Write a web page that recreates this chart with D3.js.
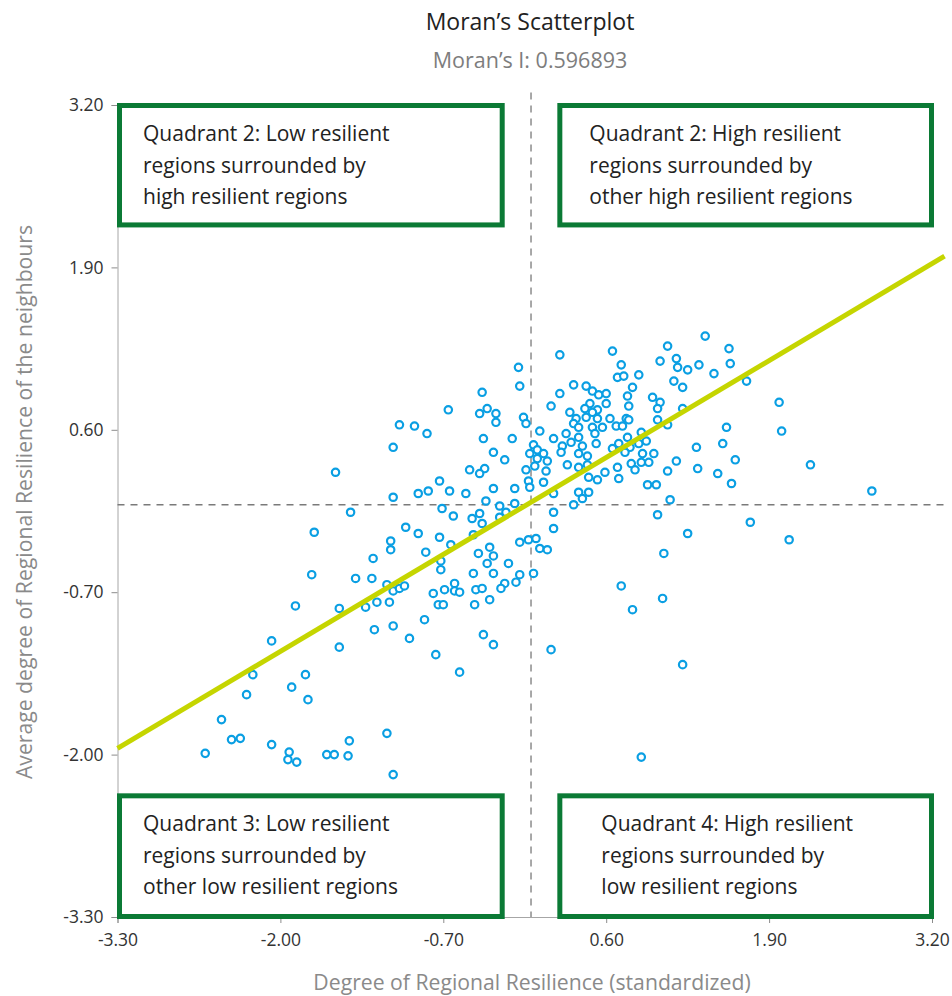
<!DOCTYPE html>
<html>
<head>
<meta charset="utf-8">
<script src="https://cdn.jsdelivr.net/npm/d3@7"></script>
<style>
  html, body { margin: 0; padding: 0; background: #fff; }
  svg { display: block; }
</style>
</head>
<body>
<svg id="chart" width="952" height="996"></svg>
<script>
// ---------------- DATA ----------------
const chartTitle = "Moran\u2019s Scatterplot";
const chartSubtitle = "Moran\u2019s I: 0.596893";
const xAxisTitle = "Degree of Regional Resilience (standardized)";
const yAxisTitle = "Average degree of Regional Resilience of the neighbours";

const xTicks = [-3.3, -2.0, -0.7, 0.6, 1.9, 3.2];
const yTicks = [-3.3, -2.0, -0.7, 0.6, 1.9, 3.2];

const moransI = 0.596893;      // slope of the fitted line
const lineIntercept = 0.02;
const lineExtent = [-3.3, 3.3];

// standardized resilience of each region (x)
const resilience = [
  -1.56,-1.44,-1.73,-1.26,-1.75,-1.40,-1.27,-1.88,-1.53,-1.32,
  -1.23,-1.25,-2.07,-1.53,-2.22,-1.80,-1.91,-2.27,-1.78,-2.47,
  -2.39,-2.32,-2.07,-2.60,-1.93,-1.94,-1.87,-1.63,-1.57,-1.45,
  -1.46,-0.39,-1.00,-0.90,-0.73,-1.12,-0.46,-0.64,-1.12,-0.84,
  -0.33,-0.42,-0.30,-0.09,-0.02,0.04,0.07,-0.72,-0.35,-0.18,
  -0.72,-0.46,-0.30,0.02,-0.09,-0.12,-0.21,-1.15,-0.61,-1.10,
  -1.05,-1.01,-1.13,-0.78,-0.69,-0.61,-0.57,-0.44,-0.39,-0.24,
  -0.33,-0.74,-0.70,-0.45,-0.85,-1.10,-0.97,-0.38,-0.30,-0.76,
  -0.57,-1.15,-1.10,-0.10,-0.09,-0.39,-0.66,-0.35,-0.41,-0.28,
  -0.28,-0.06,-0.04,-1.05,-0.93,-0.83,-1.10,-0.38,-0.15,0.02,
  -0.30,-0.01,0.05,0.05,-0.21,0.03,-0.49,-0.37,-0.41,-0.04,
  -0.73,-0.02,-0.01,-0.30,-0.13,-0.90,-0.82,-0.65,-0.52,-1.10,
  -0.36,-0.13,-0.25,-0.71,-0.20,-0.41,-0.62,-0.25,-0.47,0.07,
  0.23,0.65,1.09,0.72,1.03,1.16,1.17,1.25,0.69,0.74,
  0.86,1.14,1.21,0.34,0.44,0.23,0.49,0.54,0.60,0.81,
  0.77,0.60,0.97,1.03,0.16,0.47,0.78,0.43,0.53,1.01,
  1.21,0.31,0.49,0.36,0.44,0.53,0.63,0.76,0.78,1.01,
  0.34,0.38,0.49,0.57,0.68,0.73,1.09,0.28,0.51,0.88,
  0.18,0.38,0.77,0.32,0.52,0.70,0.25,0.41,0.65,0.79,
  0.86,0.92,0.10,0.24,0.13,0.38,0.45,0.75,0.89,0.98,
  0.29,0.38,0.45,0.80,0.88,0.94,0.12,0.69,1.16,0.83,
  0.59,1.09,0.46,0.53,0.70,0.10,0.93,1.00,0.38,0.46,
  0.18,1.11,0.41,1.39,1.58,1.34,1.59,1.46,1.72,1.98,
  2.00,1.56,1.32,1.53,1.63,2.23,1.33,1.49,1.60,2.72,
  1.75,1.25,2.06,0.34,0.18,1.01,0.18,0.13,1.06,0.72,
  1.05,0.81,0.16,1.21,0.88
];

// average resilience of the neighbours (y)
const neighbours = [
  0.26,-0.06,-0.22,-0.43,-0.56,-0.59,-0.59,-0.81,-0.83,-0.82,
  -0.78,-1.00,-1.09,-1.14,-1.36,-1.36,-1.46,-1.52,-1.56,-1.72,
  -1.88,-1.87,-1.92,-1.99,-1.98,-2.04,-2.06,-2.00,-2.00,-1.89,
  -2.01,-0.15,-0.18,-0.23,-0.26,-0.29,-0.24,-0.32,-0.36,-0.38,
  -0.34,-0.39,-0.41,-0.30,-0.28,-0.27,-0.35,-0.45,-0.47,-0.47,
  -0.52,-0.55,-0.55,-0.55,-0.56,-0.62,-0.63,-0.64,-0.63,-0.69,
  -0.67,-0.65,-0.78,-0.71,-0.68,-0.69,-0.70,-0.68,-0.67,-0.67,
  -0.76,-0.80,-0.80,-0.80,-0.92,-0.97,-1.07,-1.04,-1.12,-1.20,
  -1.34,-1.83,-2.16,1.10,0.95,0.90,0.76,0.77,0.73,0.73,
  0.66,0.70,0.65,0.64,0.63,0.57,0.46,0.53,0.53,0.48,
  0.42,0.41,0.44,0.37,0.36,0.31,0.28,0.29,0.25,0.28,
  0.19,0.19,0.14,0.13,0.13,0.09,0.11,0.11,0.09,0.06,
  0.03,0.01,-0.01,-0.03,-0.06,-0.07,-0.09,-0.10,-0.11,0.59,
  1.20,1.23,1.27,1.12,1.15,1.17,1.10,1.08,1.02,1.03,
  1.04,0.99,0.94,0.96,0.95,0.89,0.91,0.88,0.89,0.94,
  0.87,0.81,0.86,0.82,0.79,0.81,0.79,0.77,0.76,0.77,
  0.77,0.74,0.74,0.69,0.70,0.69,0.69,0.69,0.68,0.68,
  0.65,0.62,0.62,0.62,0.63,0.63,0.64,0.57,0.57,0.58,
  0.53,0.54,0.54,0.50,0.49,0.49,0.47,0.47,0.45,0.46,
  0.49,0.51,0.41,0.42,0.35,0.41,0.39,0.42,0.41,0.41,
  0.32,0.30,0.32,0.33,0.34,0.34,0.27,0.30,0.35,0.28,
  0.26,0.27,0.22,0.20,0.21,0.18,0.16,0.16,0.10,0.10,
  0.09,0.04,0.05,1.35,1.25,1.12,1.13,1.05,0.99,0.82,
  0.59,0.62,0.46,0.49,0.36,0.32,0.29,0.25,0.17,0.11,
  -0.14,-0.23,-0.28,0.00,-0.06,-0.08,-0.19,-0.36,-0.39,-0.65,
  -0.75,-0.84,-1.16,-1.28,-2.02
];

const quadrantTexts = [
  ["Quadrant 2: Low resilient", "regions surrounded by", "high resilient regions"],
  ["Quadrant 2: High resilient", "regions surrounded by", "other high resilient regions"],
  ["Quadrant 3: Low resilient", "regions surrounded by", "other low resilient regions"],
  ["Quadrant 4: High resilient", "regions surrounded by", "low resilient regions"]
];

// ---------------- LAYOUT ----------------
const W = 952, H = 996;
const plot = { left: 117.5, right: 932, top: 105, bottom: 917 };
const FONT = "'Open Sans', Lato, sans-serif";
const GREEN = "#0b7a35";
const BLUE = "#0a9fe3";

const svg = d3.select("#chart");

const x = d3.scaleLinear().domain([-3.3, 3.2]).range([plot.left, plot.right]);
const y = d3.scaleLinear().domain([-3.3, 3.2]).range([plot.bottom, plot.top]);

// Titles
svg.append("text")
  .attr("x", 530).attr("y", 30)
  .attr("text-anchor", "middle")
  .attr("font-family", FONT).attr("font-size", 23)
  .attr("fill", "#222")
  .text(chartTitle);

svg.append("text")
  .attr("x", 530).attr("y", 68)
  .attr("text-anchor", "middle")
  .attr("font-family", FONT).attr("font-size", 21.5)
  .attr("fill", "#7d7d7d")
  .text(chartSubtitle);

// Axes
const fmt = d => d.toFixed(2);
const gx = svg.append("g")
  .attr("transform", `translate(0,${plot.bottom})`)
  .call(d3.axisBottom(x).tickValues(xTicks).tickFormat(fmt).tickSize(6).tickPadding(11));
const gy = svg.append("g")
  .attr("transform", `translate(${plot.left},0)`)
  .call(d3.axisLeft(y).tickValues(yTicks).tickFormat(fmt).tickSize(6).tickPadding(8));

[gx, gy].forEach(g => {
  g.select(".domain").attr("stroke", "#a6a6a6").attr("stroke-width", 1);
  g.selectAll(".tick line").attr("stroke", "#8c8c8c");
  g.selectAll(".tick text")
    .attr("font-family", FONT).attr("font-size", 17.5).attr("fill", "#333");
});

// Axis titles
svg.append("text")
  .attr("x", 532).attr("y", 990)
  .attr("text-anchor", "middle")
  .attr("font-family", FONT).attr("font-size", 21.2)
  .attr("fill", "#8a8a8a")
  .text(xAxisTitle);

svg.append("text")
  .attr("transform", `translate(32,502) rotate(-90)`)
  .attr("text-anchor", "middle")
  .attr("font-family", FONT).attr("font-size", 21.2)
  .attr("fill", "#8a8a8a")
  .text(yAxisTitle);

// Reference (mean) lines
const refG = svg.append("g")
  .attr("stroke", "#7a7a7a").attr("stroke-width", 1.3)
  .attr("stroke-dasharray", "7,6").attr("fill", "none");
refG.append("line")
  .attr("x1", x(0)).attr("x2", x(0))
  .attr("y1", y(lineExtent[1])).attr("y2", y(lineExtent[0]));
refG.append("line")
  .attr("x1", x(lineExtent[0])).attr("x2", x(lineExtent[1]))
  .attr("y1", y(0)).attr("y2", y(0));

// Points
const pts = resilience.map((v, i) => ({ x: v, y: neighbours[i] }));
svg.append("g")
  .selectAll("circle")
  .data(pts)
  .join("circle")
  .attr("cx", d => x(d.x))
  .attr("cy", d => y(d.y))
  .attr("r", 3.7)
  .attr("fill", "#fff")
  .attr("stroke", BLUE)
  .attr("stroke-width", 2.2);

// Fitted line (slope = Moran's I)
svg.append("line")
  .attr("x1", x(lineExtent[0])).attr("y1", y(lineIntercept + moransI * lineExtent[0]))
  .attr("x2", x(lineExtent[1])).attr("y2", y(lineIntercept + moransI * lineExtent[1]))
  .attr("stroke", "#c5d500").attr("stroke-width", 5);

// Quadrant boxes
const SW = 5;
const boxes = [
  { x0: x(-3.3) - 0.5, x1: x(-0.21), y0: y(3.2) - 2, y1: y(2.22), tx: 26 },
  { x0: x(0.21),       x1: x(3.2) + 2, y0: y(3.2) - 2, y1: y(2.22), tx: 32 },
  { x0: x(-3.3) - 0.5, x1: x(-0.21), y0: y(-2.31), y1: y(-3.3) + 2, tx: 26 },
  { x0: x(0.21),       x1: x(3.2) + 2, y0: y(-2.31), y1: y(-3.3) + 2, tx: 44 }
];
boxes.forEach((b, i) => {
  const g = svg.append("g");
  g.append("rect")
    .attr("x", b.x0 + SW / 2).attr("y", b.y0 + SW / 2)
    .attr("width", b.x1 - b.x0 - SW).attr("height", b.y1 - b.y0 - SW)
    .attr("fill", "#fff").attr("stroke", GREEN).attr("stroke-width", SW);
  quadrantTexts[i].forEach((t, j) => {
    g.append("text")
      .attr("x", b.x0 + b.tx)
      .attr("y", b.y0 + 38 + j * 31.5)
      .attr("font-family", FONT).attr("font-size", 21)
      .attr("fill", "#222")
      .text(t);
  });
});
</script>
</body>
</html>
